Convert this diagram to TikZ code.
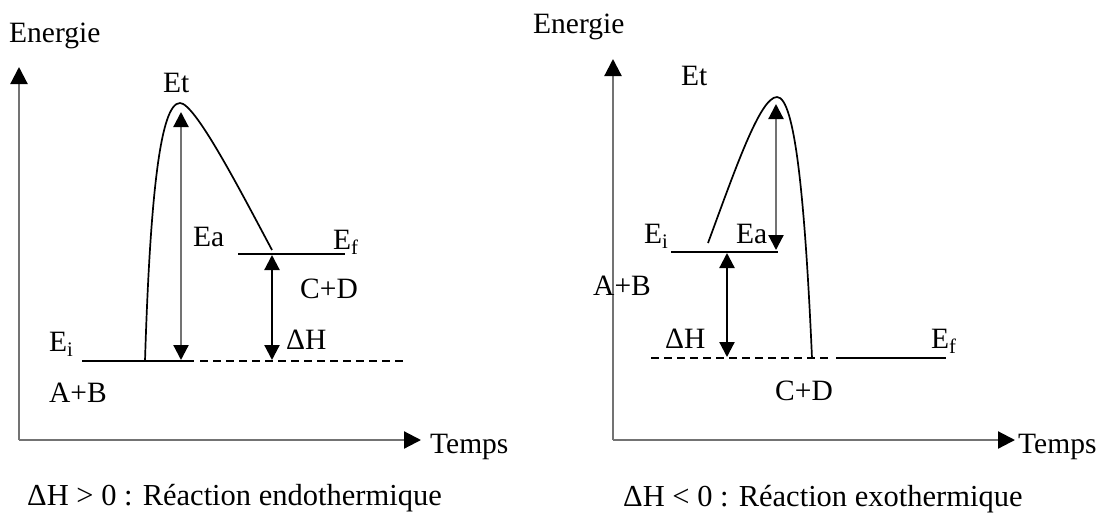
\documentclass[tikz,border=0pt]{standalone}
\usepackage{fontspec}
\setmainfont{Liberation Serif}
\usetikzlibrary{arrows.meta}
\begin{document}
\begin{tikzpicture}[x=1pt,y=-1pt,
  lbl/.style={anchor=base west,inner sep=0pt,font=\fontsize{29.5}{35}\selectfont},
  captext/.style={anchor=base west,inner sep=0pt,font=\fontsize{30.5}{36}\selectfont},
  axisline/.style={draw=black!55,line width=2.2pt,-{Triangle[length=17pt,width=17pt,color=black]}},
  level/.style={draw=black,line width=1.7pt},
  dashlevel/.style={draw=black,line width=1.7pt,dash pattern=on 8pt off 5pt},
  curve/.style={draw=black,line width=1.7pt},
  eaarrow/.style={draw=black!55,line width=2.2pt,{Triangle[length=15pt,width=15pt,color=black]}-{Triangle[length=15pt,width=15pt,color=black]}},
  dharrow/.style={draw=black,line width=2.2pt,{Triangle[length=15pt,width=15pt]}-{Triangle[length=15pt,width=15pt]}}]
\useasboundingbox (0,0) rectangle (1103,512);

% ---------- left diagram (endothermic) ----------
\coordinate (Lo) at (19,440);
\coordinate (Ly) at (19,67);
\coordinate (Lx) at (421,440);
\draw[axisline] (Lo) -- (Ly);
\draw[axisline] (Lo) -- (Lx);
\node[lbl] (LEnergie) at (9,42) {Energie};
\node[lbl] (LTemps) at (430,453) {Temps};

\coordinate (LEi1) at (82,361);  \coordinate (LEi2) at (194,361);
\coordinate (LD1) at (200,361);  \coordinate (LD2) at (407,361);
\coordinate (LEf1) at (238,254); \coordinate (LEf2) at (345,254);
\draw[level] (LEi1) -- (LEi2);
\draw[dashlevel] (LD1) -- (LD2);
\draw[level] (LEf1) -- (LEf2);

\coordinate (Lc0) at (145,361);
\coordinate (Lpk) at (180,103);
\coordinate (Lc1) at (272,250);
\draw[curve] (Lc0) .. controls (150,200) and (160,103) .. (Lpk)
                   .. controls (195,103) and (240,190) .. (Lc1);

\coordinate (LEaT) at (181,112); \coordinate (LEaB) at (181,360);
\draw[eaarrow] (LEaT) -- (LEaB);
\coordinate (LdhT) at (272,255); \coordinate (LdhB) at (272,360);
\draw[dharrow] (LdhT) -- (LdhB);

\node[lbl] (LEt) at (163,92) {Et};
\node[lbl] (LEa) at (193,246) {Ea};
\node[lbl] (LEf) at (333,249) {E\textsubscript{f}};
\node[lbl] (LCD) at (300,298) {C+D};
\node[lbl] (LdH) at (286,349) {ΔH};
\node[lbl] (LEi) at (49,351) {E\textsubscript{i}};
\node[lbl] (LAB) at (49,402) {A+B};
\node[captext] (Lcap) at (27,505) {ΔH > 0 : Réaction endothermique};

% ---------- right diagram (exothermic) ----------
\coordinate (Ro) at (613,440);
\coordinate (Ry) at (613,59);
\coordinate (Rx) at (1015,440);
\draw[axisline] (Ro) -- (Ry);
\draw[axisline] (Ro) -- (Rx);
\node[lbl] (REnergie) at (533,33) {Energie};
\node[lbl] (RTemps) at (1018,453) {Temps};

\coordinate (REi1) at (671,252); \coordinate (REi2) at (778,252);
\coordinate (RD1) at (651,358);  \coordinate (RD2) at (830,358);
\coordinate (REf1) at (836,358); \coordinate (REf2) at (946,358);
\draw[level] (REi1) -- (REi2);
\draw[dashlevel] (RD1) -- (RD2);
\draw[level] (REf1) -- (REf2);

\coordinate (Rc0) at (708,243);
\coordinate (Rpk) at (777,97);
\coordinate (Rc1) at (812,358);
\draw[curve] (Rc0) .. controls (735,170) and (760,97) .. (Rpk)
                   .. controls (795,97) and (805,200) .. (Rc1);

\coordinate (REaT) at (776,104); \coordinate (REaB) at (776,250);
\draw[eaarrow] (REaT) -- (REaB);
\coordinate (RdhT) at (727,253); \coordinate (RdhB) at (727,357);
\draw[dharrow] (RdhT) -- (RdhB);

\node[lbl] (REt) at (681,85) {Et};
\node[lbl] (REi) at (644,243) {E\textsubscript{i}};
\node[lbl] (REa) at (736,243) {Ea};
\node[lbl] (RAB) at (593,295) {A+B};
\node[lbl] (RdH) at (665,348) {ΔH};
\node[lbl] (REf) at (931,348) {E\textsubscript{f}};
\node[lbl] (RCD) at (775,400) {C+D};
\node[captext] (Rcap) at (623,506) {ΔH < 0 : Réaction exothermique};
\end{tikzpicture}
\end{document}
